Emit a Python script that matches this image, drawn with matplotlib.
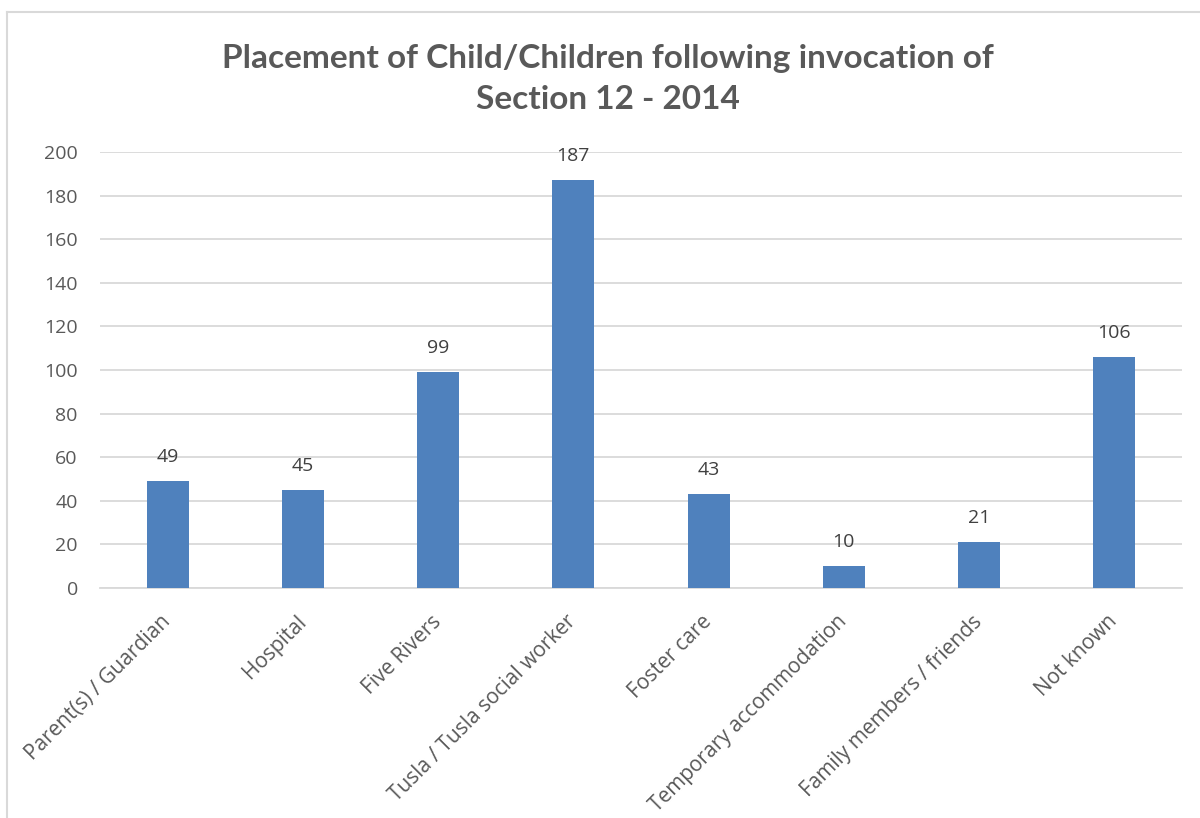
import matplotlib
matplotlib.use("Agg")
import matplotlib.pyplot as plt
from matplotlib.lines import Line2D

categories = [
    "Parent(s) / Guardian",
    "Hospital",
    "Five Rivers",
    "Tusla / Tusla social worker",
    "Foster care",
    "Temporary accommodation",
    "Family members / friends",
    "Not known",
]
values = [49, 45, 99, 187, 43, 10, 21, 106]
y_ticks = [0, 20, 40, 60, 80, 100, 120, 140, 160, 180, 200]

title = "Placement of Child/Children following invocation of\nSection 12 - 2014"

bar_color = "#4F81BD"
grid_color = "#D9D9D9"
text_color = "#595959"

plt.rcParams["font.family"] = ["Open Sans", "DejaVu Sans"]

fig = plt.figure(figsize=(12, 8.18), dpi=100)
ax = fig.add_axes([100 / 1200, 1 - 588 / 818, 1082 / 1200, 436 / 818])

x = list(range(len(categories)))
bars = ax.bar(x, values, width=0.31, color=bar_color, zorder=3)

ax.set_xlim(-0.5, len(categories) - 0.5)
ax.set_ylim(0, 200)
ax.set_yticks(y_ticks)
ax.yaxis.grid(True, color=grid_color, linewidth=1.3, zorder=0)
ax.set_axisbelow(True)
for side in ["top", "right", "left"]:
    ax.spines[side].set_visible(False)
ax.spines["bottom"].set_color(grid_color)
ax.spines["bottom"].set_linewidth(1.3)
ax.tick_params(axis="y", length=0, pad=16, labelsize=14, labelcolor=text_color)
ax.tick_params(axis="x", length=0, pad=22, labelsize=15, labelcolor=text_color)

ax.set_xticks(x)
ax.set_xticklabels(categories, rotation=45, ha="right", va="center",
                   rotation_mode="anchor")

for xi, v in zip(x, values):
    ax.annotate(str(v), (xi, v), xytext=(0, 11), textcoords="offset points",
                ha="center", va="bottom", fontsize=14, color="#404040")

fig.text(608 / 1200, 1 - 79 / 818, title, ha="center", va="center",
         fontsize=24, fontweight="bold", color=text_color,
         family=["Lato", "DejaVu Sans"], linespacing=1.5)

# Chart-area border
fig.add_artist(Line2D([7 / 1200, 1.0], [1 - 12 / 818, 1 - 12 / 818],
                      transform=fig.transFigure, color=grid_color, linewidth=1.5))
fig.add_artist(Line2D([7 / 1200, 7 / 1200], [0.0, 1 - 12 / 818],
                      transform=fig.transFigure, color=grid_color, linewidth=1.5))

fig.savefig("out.png", dpi=100, facecolor="white")
